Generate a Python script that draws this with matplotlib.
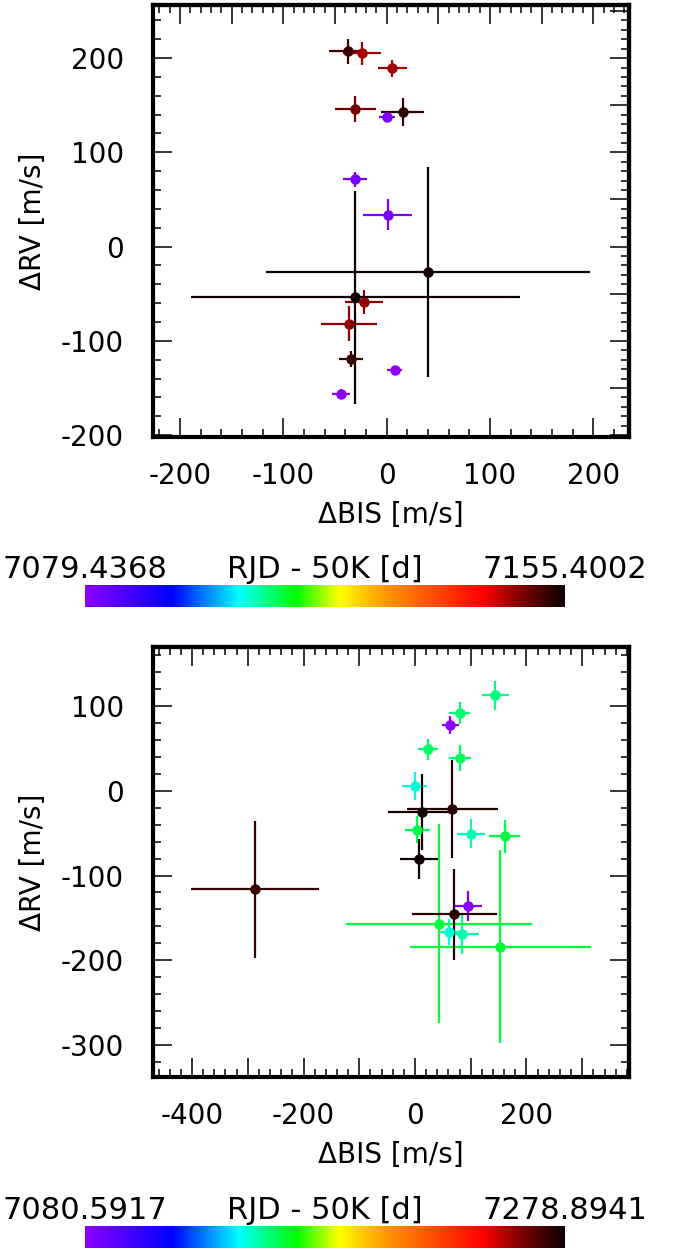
import numpy as np
import matplotlib
matplotlib.use('Agg')
import matplotlib.pyplot as plt
from matplotlib.colors import LinearSegmentedColormap, Normalize
from matplotlib.ticker import MultipleLocator, NullFormatter, FuncFormatter

plt.rcParams['axes.unicode_minus'] = False
plt.rcParams['font.family'] = 'DejaVu Sans'

# first season: epoch (RJD - 50000), bisector span and RV with errors
rjd_a = [7079.4368, 7079.48, 7080.43, 7081.40, 7081.47, 7146.4, 7146.5, 7147.4,
         7147.5, 7149.4, 7152.4, 7152.5, 7153.4, 7155.38, 7155.4002]
bis_a = [-44.0, 7.7, 0.3, -30.3, 1.0, -23.9, 5.5, -36.5,
         -22.0, -30.3, -37.7, -34.2, 15.5, -30.3, 40.0]
bis_err_a = [8.4, 7.0, 7.5, 11.5, 23.7, 18.0, 14.0, 27.0,
             18.5, 20.0, 18.0, 11.5, 21.0, 159.0, 157.0]
rv_a = [-156.0, -131.0, 137.6, 71.3, 34.0, 205.0, 189.0, -81.6,
        -59.0, 146.0, 207.0, -119.0, 142.6, -53.5, -27.0]
rv_err_a = [5.3, 4.6, 4.0, 7.8, 16.5, 12.4, 9.4, 19.0,
            13.0, 14.0, 13.0, 8.3, 14.7, 113.0, 111.0]

# second season
rjd_b = [7080.5917, 7082.55, 7147.6, 7148.5, 7151.5, 7152.5, 7156.5, 7157.5,
         7158.5, 7159.4, 7160.4, 7161.4, 7162.4, 7163.4, 7272.6, 7273.5,
         7274.5, 7277.5, 7278.8941]
bis_b = [63.4, 95.7, -0.6, 61.6, 100.5, 84.3, 144.0, 80.0,
         24.0, 81.0, 4.2, 161.0, 43.0, 153.0, -287.0, 70.6,
         67.0, 13.0, 7.8]
bis_err_b = [15.0, 24.0, 23.0, 21.0, 25.0, 30.0, 24.0, 18.5,
             18.0, 20.0, 22.0, 28.0, 166.0, 162.0, 114.5, 75.7,
             81.5, 62.0, 34.0]
rv_b = [78.0, -136.0, 5.5, -167.0, -50.4, -169.0, 113.0, 92.5,
        49.0, 39.0, -45.7, -53.5, -156.7, -184.0, -116.0, -145.7,
        -21.0, -25.0, -80.0]
rv_err_b = [10.6, 17.5, 16.5, 15.4, 17.5, 23.4, 17.3, 13.0,
            12.0, 15.0, 15.7, 19.7, 118.0, 114.0, 81.0, 53.5,
            58.0, 44.7, 23.6]

cmap = LinearSegmentedColormap.from_list('rainbow_black', [
    (0.00, (0.55, 0.0, 1.0)),
    (0.18, (0.0, 0.0, 1.0)),
    (0.32, (0.0, 1.0, 1.0)),
    (0.44, (0.0, 1.0, 0.0)),
    (0.53, (1.0, 1.0, 0.0)),
    (0.62, (1.0, 0.62, 0.0)),
    (0.83, (1.0, 0.0, 0.0)),
    (0.90, (0.55, 0.0, 0.0)),
    (1.00, (0.05, 0.0, 0.0)),
])

W, H = 676, 1249
fig = plt.figure(figsize=(W / 100, H / 100), dpi=100)


def rect(x0, y0, x1, y1):
    return [x0 / W, 1 - y1 / H, (x1 - x0) / W, (y1 - y0) / H]


def in_ticks(ax):
    ax.tick_params(which='major', direction='in', length=14, width=1.1)
    ax.tick_params(which='minor', direction='in', length=6, width=1.1)


def panel(ax, t, x, xe, y, ye, xlim, ylim, xlabel_step, top_step, right_step):
    norm = Normalize(min(t), max(t))
    for i in np.argsort(t):
        c = cmap(norm(t[i]))
        ax.errorbar(x[i], y[i], xerr=xe[i], yerr=ye[i], fmt='o', color=c,
                    ms=6.5, elinewidth=1.6, capsize=0)
    ax.set_xlim(xlim)
    ax.set_ylim(ylim)
    for s in ax.spines.values():
        s.set_linewidth(3)
    ax.xaxis.set_major_locator(MultipleLocator(100))
    ax.xaxis.set_minor_locator(MultipleLocator(20))
    ax.yaxis.set_major_locator(MultipleLocator(100))
    ax.yaxis.set_minor_locator(MultipleLocator(20))
    ax.xaxis.set_major_formatter(FuncFormatter(
        lambda v, p: '%d' % v if round(v) % xlabel_step == 0 else ''))
    in_ticks(ax)
    ax.tick_params(axis='x', labelsize=20, pad=18)
    ax.tick_params(axis='y', labelsize=20, pad=21)
    ax.set_xlabel('ΔBIS [m/s]', fontsize=20, labelpad=8)
    ax.set_ylabel('ΔRV [m/s]', fontsize=20, labelpad=10)

    # top and right axes carry their own tick spacing
    sx = ax.secondary_xaxis('top')
    sx.xaxis.set_major_locator(MultipleLocator(top_step[0]))
    sx.xaxis.set_minor_locator(MultipleLocator(top_step[1]))
    sx.xaxis.set_major_formatter(NullFormatter())
    in_ticks(sx)
    sy = ax.secondary_yaxis('right')
    sy.yaxis.set_major_locator(MultipleLocator(right_step[0]))
    sy.yaxis.set_minor_locator(MultipleLocator(right_step[1]))
    sy.yaxis.set_major_formatter(NullFormatter())
    in_ticks(sy)
    for s in list(sx.spines.values()) + list(sy.spines.values()):
        s.set_linewidth(3)


def colorbar(y0, y1, tmin, tmax):
    cax = fig.add_axes(rect(85, y0, 565, y1))
    grad = np.linspace(0, 1, 256)[None, :]
    cax.imshow(grad, aspect='auto', cmap=cmap, extent=[0, 1, 0, 1])
    cax.set_axis_off()
    for xpos, s in ((0, '%.4f' % tmin), (0.5, 'RJD - 50K [d]'),
                    (1, '%.4f' % tmax)):
        cax.text(xpos, 1.3, s, ha='center', va='baseline', fontsize=22,
                 transform=cax.transAxes)


ax1 = fig.add_axes(rect(153, 5.3, 628.5, 437))
panel(ax1, rjd_a, bis_a, bis_err_a, rv_a, rv_err_a,
      (-226, 234), (-202, 256), 100, (50, 10), (50, 10))
colorbar(585, 607, min(rjd_a), max(rjd_a))

ax2 = fig.add_axes(rect(153, 647, 628.5, 1077))
panel(ax2, rjd_b, bis_b, bis_err_b, rv_b, rv_err_b,
      (-470, 383), (-338, 170), 200, (100, 20), (100, 20))
colorbar(1226, 1248, min(rjd_b), max(rjd_b))

fig.savefig('out.png', dpi=100)
